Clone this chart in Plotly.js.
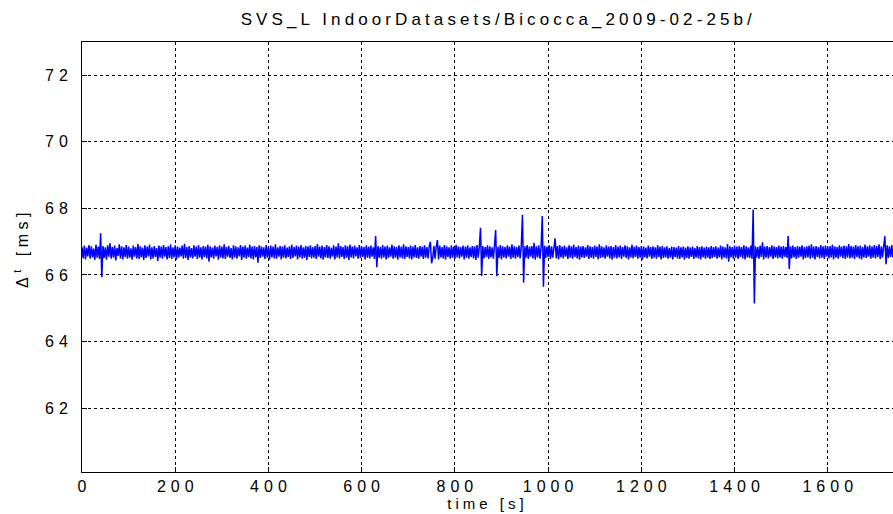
<!DOCTYPE html>
<html>
<head>
<meta charset="utf-8">
<script src="https://cdn.plot.ly/plotly-3.0.1.min.js"></script>
<style>
  html, body { margin: 0; padding: 0; background: #fff; }
  #chart { width: 893px; height: 514px; }
  .gtitle { letter-spacing: 4.1px; }
  .xtick text, .ytick text { letter-spacing: 5px; }
  .xtick text { translate: 2.5px 0; }
  .ytick text { translate: -5px 0; }
  .xtitle { letter-spacing: 4px; }
  .annotation-text { letter-spacing: 4.5px; }
</style>
</head>
<body>
<div id="chart"></div>
<script>
// Frame interval Δt [ms], sampled every 2.5 s starting at t = 0 s
const startTime = 0;
const sampleStep = 2.5;
const deltaT = [
  66.84,66.50,66.88,66.47,66.82,66.56,66.90,66.49,66.86,66.53,66.79,66.45,66.91,66.52,66.85,66.48,67.25,65.93,66.87,66.51,
  66.83,66.46,66.89,66.55,66.96,66.49,66.84,66.52,66.88,66.44,66.81,66.57,66.92,66.50,66.86,66.47,66.83,66.54,66.90,66.49,
  66.85,66.52,66.80,66.46,66.88,66.55,66.84,66.50,66.93,66.48,66.86,66.53,66.82,66.45,66.89,66.51,66.85,66.56,66.91,66.47,
  66.83,66.50,66.87,66.54,66.81,66.42,66.88,66.52,66.85,66.49,66.90,66.55,66.84,66.47,66.86,66.51,66.92,66.48,66.83,66.53,
  66.89,66.46,66.85,66.52,66.82,66.56,66.88,66.49,66.94,66.51,66.84,66.45,66.87,66.53,66.81,66.50,66.89,66.55,66.85,66.48,
  66.90,66.52,66.83,66.47,66.87,66.54,66.85,66.50,66.91,66.40,66.86,66.53,66.82,66.49,66.88,66.56,66.84,66.46,66.89,66.52,
  66.85,66.50,66.92,66.48,66.84,66.55,66.87,66.51,66.81,66.47,66.89,66.53,66.86,66.49,66.83,66.56,66.90,66.45,66.85,66.52,
  66.88,66.49,66.82,66.54,66.91,66.50,66.85,66.47,66.87,66.53,66.84,66.37,66.89,66.51,66.86,66.55,66.83,66.48,66.90,66.52,
  66.84,66.46,66.88,66.53,66.85,66.50,66.92,66.49,66.83,66.55,66.87,66.47,66.85,66.52,66.89,66.50,66.82,66.54,66.86,66.48,
  66.91,66.51,66.84,66.56,66.88,66.47,66.85,66.53,66.90,66.49,66.83,66.52,66.87,66.45,66.86,66.54,66.89,66.50,66.84,66.52,
  66.87,66.48,66.93,66.55,66.85,66.50,66.88,66.46,66.84,66.53,66.90,66.51,66.86,66.49,66.82,66.55,66.89,66.47,66.85,66.53,
  66.95,66.50,66.87,66.54,66.84,66.48,66.89,66.52,66.86,66.45,66.91,66.53,66.85,66.50,66.88,66.56,66.83,66.49,66.90,66.51,
  66.86,66.54,66.84,66.47,66.89,66.52,66.85,66.50,66.88,66.55,66.83,66.48,67.17,66.23,66.87,66.52,66.84,66.49,66.90,66.53,
  66.85,66.47,66.88,66.51,66.83,66.55,66.91,66.49,66.86,66.52,66.84,66.46,66.89,66.53,66.85,66.50,66.92,66.48,66.86,66.54,
  66.84,66.50,66.88,66.47,66.85,66.53,66.90,66.51,66.83,66.49,66.87,66.55,66.85,66.48,66.89,66.52,66.84,66.50,66.86,67.00,
  66.35,66.52,66.87,66.49,66.85,67.05,66.47,66.88,66.53,66.84,66.50,66.90,66.46,66.86,66.54,66.83,66.49,66.89,66.52,66.85,
  66.48,66.91,66.53,66.86,66.50,66.84,66.55,66.88,66.47,66.85,66.52,66.89,66.49,66.83,66.54,66.87,66.50,66.86,66.45,66.90,
  66.52,66.85,67.42,65.97,66.87,66.50,66.84,66.54,66.89,66.48,66.86,66.53,66.83,66.49,66.88,67.35,65.96,66.85,66.51,66.90,
  66.47,66.86,66.53,66.84,66.50,66.89,66.55,66.85,66.48,66.92,66.52,66.86,66.49,66.84,66.54,66.88,66.50,66.87,67.81,65.77,
  66.86,66.52,66.90,66.48,66.85,66.55,66.87,66.50,66.97,66.46,66.86,66.53,66.89,66.49,66.84,67.77,65.65,66.88,66.51,66.85,
  66.54,66.89,66.48,66.86,66.52,66.84,67.10,66.50,66.87,66.47,66.90,66.53,66.85,66.50,66.88,66.55,66.83,66.48,66.89,66.52,
  66.86,66.49,66.91,66.54,66.84,66.50,66.88,66.46,66.85,66.53,66.87,66.51,66.83,66.55,66.90,66.48,66.86,66.52,66.84,66.49,
  66.88,66.54,66.85,66.47,66.92,66.51,66.86,66.53,66.83,66.49,66.89,66.55,66.85,66.50,66.87,66.46,66.84,66.52,66.90,66.50,
  66.85,66.53,66.88,66.48,66.84,66.55,66.89,66.51,66.86,66.47,66.83,66.53,66.91,66.50,66.85,66.54,66.88,66.49,66.84,66.52,
  66.87,66.46,66.85,66.53,66.82,66.50,66.88,66.55,66.84,66.48,66.86,66.52,66.83,66.49,66.89,66.54,66.85,66.47,66.87,66.51,
  66.83,66.53,66.86,66.49,66.81,66.52,66.85,66.47,66.84,66.54,66.82,66.50,66.87,66.48,66.83,66.53,66.85,66.46,66.82,66.51,
  66.86,66.49,66.83,66.54,66.85,66.48,66.81,66.52,66.87,66.50,66.84,66.47,66.86,66.53,66.82,66.49,66.85,66.52,66.83,66.48,
  66.87,66.51,66.84,66.54,66.86,66.49,66.82,66.53,66.88,66.47,66.85,66.52,66.83,66.50,66.93,66.40,66.86,66.53,66.84,66.49,
  66.88,66.52,66.85,66.48,66.87,66.54,66.84,66.50,66.89,66.47,66.86,66.53,66.83,66.51,66.88,66.49,67.97,65.14,66.86,66.52,
  66.84,66.49,66.88,66.54,66.98,66.47,66.85,66.52,66.87,66.50,66.84,66.55,66.89,66.48,66.86,66.53,66.84,66.50,66.88,66.52,
  66.85,66.49,66.87,66.54,66.84,66.51,67.17,66.18,66.86,66.50,66.88,66.53,66.84,66.48,66.87,66.52,66.85,66.55,66.89,66.47,
  66.84,66.51,66.86,66.53,66.88,66.49,66.92,66.52,66.85,66.47,66.87,66.54,66.84,66.50,66.90,66.52,66.86,66.48,66.88,66.55,
  66.85,66.50,66.87,66.53,66.91,66.47,66.86,66.52,66.84,66.49,66.89,66.55,66.85,66.51,66.88,66.48,66.86,66.53,66.93,66.50,
  66.87,66.52,66.85,66.48,66.90,66.54,66.86,66.50,66.88,66.47,66.84,66.53,66.91,66.51,66.86,66.55,66.89,66.49,66.85,66.52,
  66.90,66.50,66.87,66.54,66.92,66.48,66.86,66.53,66.88,67.17,66.32,66.89,66.51,66.86,66.54,66.90,66.52
];

const xTickVals = [0, 200, 400, 600, 800, 1000, 1200, 1400, 1600];
const yTickVals = [62, 64, 66, 68, 70, 72];
const titleText = 'SVS_L IndoorDatasets/Bicocca_2009-02-25b/';
const xTitleText = 'time [s]';
const yTitleText = 'Δ<sup>t</sup> [ms]';

const font = 'Liberation Sans, Arial, Helvetica, sans-serif';

const trace = {
  type: 'scatter',
  mode: 'lines',
  x0: startTime,
  dx: sampleStep,
  y: deltaT,
  line: { color: '#0000ff', width: 1.5 },
  hoverinfo: 'skip'
};

const axisCommon = {
  showline: true,
  linecolor: '#000',
  linewidth: 1,
  mirror: true,
  ticks: 'inside',
  ticklen: 5,
  tickcolor: '#000',
  showgrid: true,
  gridcolor: '#000',
  gridwidth: 1,
  griddash: 'dot',
  zeroline: false,
  tickfont: { family: font, size: 16, color: '#000' }
};

const layout = {
  width: 893,
  height: 514,
  margin: { l: 82, r: 0, t: 42, b: 42 },
  paper_bgcolor: '#fff',
  plot_bgcolor: '#fff',
  showlegend: false,
  font: { family: font, color: '#000' },
  title: {
    text: titleText,
    font: { family: font, size: 17, color: '#000' },
    xref: 'container', x: 0.558, xanchor: 'center',
    yref: 'container', y: 0.962, yanchor: 'middle'
  },
  xaxis: Object.assign({}, axisCommon, {
    range: [0, 1740],
    tickvals: xTickVals,
    ticktext: xTickVals.map(String),
    title: { text: xTitleText, font: { family: font, size: 15, color: '#000' }, standoff: 1 }
  }),
  yaxis: Object.assign({}, axisCommon, {
    range: [60.08, 73],
    tickvals: yTickVals,
    ticktext: yTickVals.map(String)
  }),
  annotations: [{
    text: yTitleText,
    xref: 'paper', x: 0, xanchor: 'center', xshift: -61,
    yref: 'paper', y: 0.521, yanchor: 'middle',
    textangle: -90,
    showarrow: false,
    font: { family: font, size: 16, color: '#000' }
  }]
};

Plotly.newPlot('chart', [trace], layout, { displayModeBar: false, staticPlot: true });
</script>
</body>
</html>
